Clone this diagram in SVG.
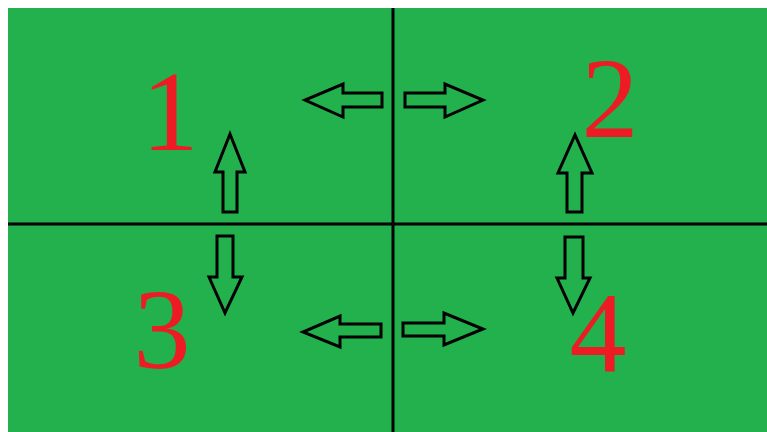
<svg xmlns="http://www.w3.org/2000/svg" width="767" height="432" viewBox="0 0 767 432">
<style>
.num{font-family:"Liberation Serif","Times New Roman",serif;font-size:114px;fill:#ED1C24;text-anchor:middle}
.arr{fill:none;stroke:#000;stroke-width:3;stroke-linejoin:miter}
.div{stroke:#000;stroke-width:3}
</style>
<rect x="0" y="0" width="767" height="432" fill="#fff"/>
<rect x="8" y="8" width="759" height="424" fill="#22B14C"/>
<g id="dividers">
<line class="div" x1="393" y1="8" x2="393" y2="432"/>
<line class="div" x1="8" y1="224" x2="767" y2="224"/>
</g>
<g id="q1"><text class="num" x="170" y="150">1</text></g>
<g id="q2"><text class="num" x="610" y="137">2</text></g>
<g id="q3"><text class="num" x="162" y="368">3</text></g>
<g id="q4"><text class="num" x="598" y="372">4</text></g>
<g id="connectors">
<polygon class="arr" points="382,93 343,93 343,84 305,100 343,117 343,107 382,107"/>
<polygon class="arr" points="405,93 445,93 445,84 483,100 445,117 445,107 405,107"/>
<polygon class="arr" points="381,324 340,324 340,316 303,332 340,347 340,337 381,337"/>
<polygon class="arr" points="403,323 444,323 444,313 483,329 444,345 444,336 403,336"/>
<polygon class="arr" points="223,212 223,172 215,172 230,134 245,172 237,172 237,212"/>
<polygon class="arr" points="217,236 217,277 209,277 225,313 242,277 233,277 233,236"/>
<polygon class="arr" points="567,212 567,173 558,173 575,135 592,173 582,173 582,212"/>
<polygon class="arr" points="565,237 565,278 557,278 573,313 590,278 583,278 583,237"/>
</g>
</svg>
